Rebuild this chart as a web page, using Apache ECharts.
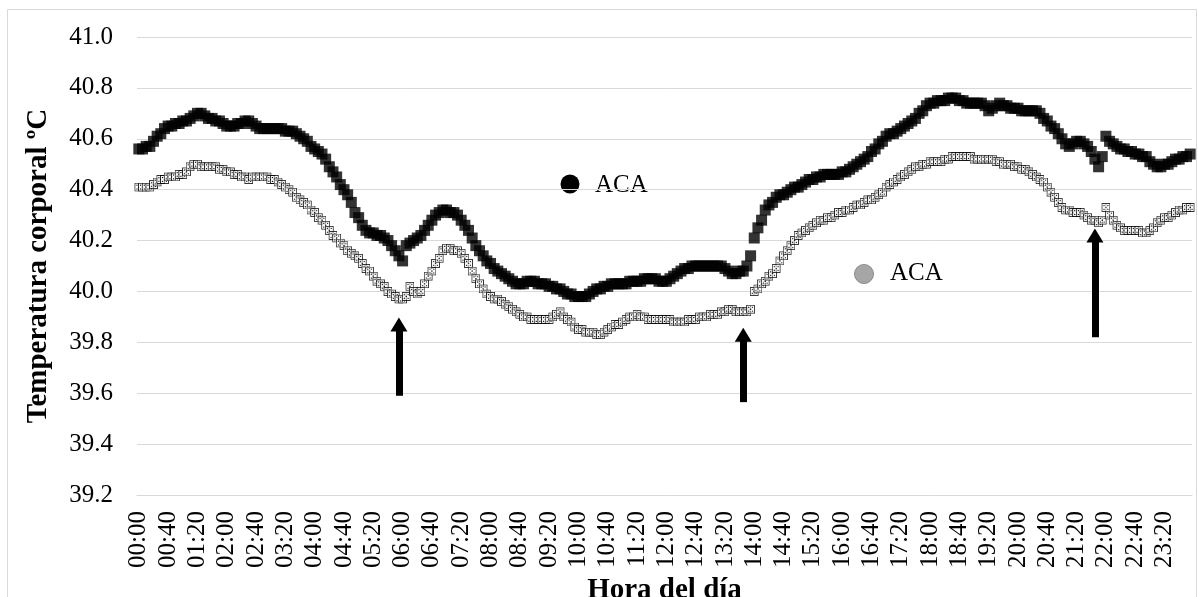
<!DOCTYPE html>
<html>
<head>
<meta charset="utf-8">
<script src="https://cdn.jsdelivr.net/npm/echarts@6/dist/echarts.min.js"></script>
<style>
  html, body { margin: 0; padding: 0; background: #fff; }
  #chart { width: 1198px; height: 597px; }
</style>
</head>
<body>
<div id="chart"></div>
<script>
// temperatura corporal cada 5 min (una fila = una hora)
const acaNegro = [
  40.56,40.56,40.57,40.57,40.59,40.61,40.62,40.64,40.65,40.65,40.66,40.66,
  40.67,40.67,40.68,40.69,40.70,40.70,40.69,40.68,40.68,40.67,40.67,40.66,
  40.65,40.65,40.65,40.66,40.66,40.67,40.67,40.66,40.65,40.64,40.64,40.64,
  40.64,40.64,40.64,40.64,40.63,40.63,40.63,40.62,40.61,40.60,40.59,40.57,
  40.56,40.55,40.54,40.52,40.49,40.47,40.45,40.42,40.40,40.38,40.35,40.31,
  40.29,40.26,40.24,40.23,40.23,40.22,40.22,40.21,40.20,40.18,40.16,40.14,
  40.12,40.18,40.19,40.20,40.21,40.22,40.24,40.26,40.28,40.30,40.31,40.32,
  40.32,40.31,40.31,40.30,40.28,40.26,40.24,40.21,40.18,40.16,40.14,40.12,
  40.11,40.09,40.08,40.07,40.06,40.05,40.04,40.03,40.03,40.03,40.04,40.04,
  40.04,40.03,40.03,40.03,40.02,40.02,40.01,40.01,40.00,39.99,39.99,39.98,
  39.98,39.98,39.98,39.99,40.00,40.01,40.01,40.02,40.02,40.03,40.03,40.03,
  40.03,40.03,40.04,40.04,40.04,40.04,40.05,40.05,40.05,40.05,40.04,40.04,
  40.04,40.05,40.06,40.07,40.08,40.09,40.09,40.10,40.10,40.10,40.10,40.10,
  40.10,40.10,40.10,40.10,40.09,40.08,40.07,40.07,40.08,40.08,40.10,40.14,
  40.21,40.25,40.28,40.32,40.34,40.35,40.37,40.38,40.38,40.39,40.40,40.41,
  40.41,40.42,40.43,40.44,40.44,40.45,40.45,40.46,40.46,40.46,40.46,40.46,
  40.47,40.47,40.48,40.49,40.50,40.51,40.52,40.53,40.55,40.56,40.58,40.59,
  40.61,40.62,40.62,40.63,40.64,40.65,40.66,40.67,40.68,40.70,40.71,40.73,
  40.74,40.74,40.75,40.75,40.75,40.76,40.76,40.76,40.75,40.75,40.74,40.74,
  40.74,40.74,40.74,40.73,40.71,40.72,40.73,40.74,40.73,40.73,40.72,40.72,
  40.72,40.71,40.71,40.71,40.71,40.71,40.70,40.68,40.67,40.65,40.64,40.62,
  40.60,40.58,40.57,40.58,40.59,40.59,40.58,40.57,40.55,40.52,40.49,40.53,
  40.61,40.59,40.58,40.57,40.56,40.56,40.55,40.55,40.54,40.54,40.53,40.53,
  40.51,40.50,40.49,40.49,40.50,40.50,40.51,40.52,40.52,40.53,40.53,40.54
];

const acaGris = [
  40.41,40.41,40.41,40.41,40.42,40.43,40.44,40.44,40.45,40.45,40.45,40.46,
  40.46,40.47,40.49,40.50,40.50,40.49,40.49,40.49,40.49,40.49,40.48,40.48,
  40.47,40.47,40.46,40.46,40.45,40.45,40.44,40.45,40.45,40.45,40.45,40.45,
  40.44,40.44,40.43,40.42,40.41,40.40,40.39,40.37,40.36,40.35,40.34,40.32,
  40.31,40.29,40.28,40.26,40.24,40.22,40.21,40.19,40.18,40.16,40.15,40.14,
  40.13,40.11,40.09,40.08,40.06,40.04,40.03,40.02,40.00,39.99,39.98,39.97,
  39.97,39.98,40.02,40.00,39.99,40.00,40.03,40.06,40.08,40.11,40.13,40.16,
  40.17,40.17,40.16,40.16,40.15,40.13,40.11,40.08,40.05,40.03,40.01,39.99,
  39.98,39.97,39.97,39.96,39.95,39.94,39.93,39.92,39.91,39.90,39.90,39.89,
  39.89,39.89,39.89,39.89,39.89,39.90,39.91,39.92,39.90,39.89,39.88,39.86,
  39.85,39.85,39.84,39.84,39.84,39.83,39.83,39.84,39.85,39.86,39.87,39.87,
  39.88,39.89,39.90,39.90,39.91,39.90,39.90,39.89,39.89,39.89,39.89,39.89,
  39.89,39.89,39.88,39.88,39.88,39.88,39.89,39.89,39.89,39.90,39.90,39.90,
  39.91,39.91,39.91,39.92,39.92,39.93,39.93,39.92,39.92,39.92,39.92,39.93,
  40.00,40.01,40.03,40.04,40.06,40.07,40.09,40.12,40.14,40.16,40.18,40.20,
  40.22,40.23,40.24,40.25,40.26,40.27,40.28,40.28,40.29,40.29,40.30,40.31,
  40.31,40.32,40.32,40.33,40.34,40.34,40.35,40.36,40.36,40.37,40.38,40.39,
  40.41,40.42,40.43,40.44,40.45,40.46,40.47,40.48,40.49,40.49,40.50,40.50,
  40.51,40.51,40.51,40.51,40.52,40.52,40.53,40.53,40.53,40.53,40.53,40.53,
  40.52,40.52,40.52,40.52,40.52,40.52,40.51,40.51,40.50,40.50,40.50,40.49,
  40.49,40.48,40.48,40.47,40.46,40.45,40.44,40.43,40.41,40.39,40.37,40.35,
  40.33,40.32,40.32,40.31,40.31,40.31,40.30,40.29,40.28,40.28,40.27,40.28,
  40.33,40.30,40.28,40.26,40.25,40.24,40.24,40.24,40.24,40.24,40.23,40.23,
  40.24,40.25,40.27,40.28,40.29,40.29,40.30,40.31,40.32,40.32,40.33,40.33
];

// flechas: [hora, base, punta]
const flechas = [
  ['05:55', 39.59, 39.87],
  ['13:45', 39.565, 39.83],
  ['21:45', 39.82, 40.22]
];

const pad = n => (n < 10 ? '0' : '') + n;
const horas = [];
for (let i = 0; i < 288; i++) {
  horas.push(pad(Math.floor(i / 12)) + ':' + pad((i % 12) * 5));
}

const FONT = '"Liberation Serif", "Times New Roman", serif';

// marcador cuadrado blanco con puntos
const svgMarca =
  '<svg xmlns="http://www.w3.org/2000/svg" width="9" height="9">' +
  '<rect x="0.5" y="0.5" width="8" height="8" fill="#fff" stroke="#000" stroke-width="1"/>' +
  '<rect x="2" y="2" width="1.2" height="1.2" fill="#000"/>' +
  '<rect x="5.8" y="2" width="1.2" height="1.2" fill="#000"/>' +
  '<rect x="2" y="5.8" width="1.2" height="1.2" fill="#000"/>' +
  '<rect x="5.8" y="5.8" width="1.2" height="1.2" fill="#000"/>' +
  '<rect x="3.8" y="3.8" width="1.4" height="1.4" fill="#000"/>' +
  '<rect x="3.8" y="1.5" width="1.2" height="1" fill="#444"/>' +
  '<rect x="3.8" y="6.5" width="1.2" height="1" fill="#444"/>' +
  '</svg>';
const marcaBlanca = 'image://data:image/svg+xml;charset=utf-8,' + encodeURIComponent(svgMarca);

const chart = echarts.init(document.getElementById('chart'));

const option = {
  backgroundColor: '#fff',
  animation: false,
  grid: { left: 137, right: 6, top: 37, bottom: 102, containLabel: false, outerBoundsMode: 'none' },
  xAxis: {
    type: 'category',
    data: horas,
    name: 'Hora del día',
    nameLocation: 'middle',
    nameGap: 76,
    nameTextStyle: { fontFamily: FONT, fontWeight: 'bold', fontSize: 29, color: '#000' },
    axisLine: { show: true, lineStyle: { color: '#d9d9d9', width: 1 } },
    axisTick: { show: false },
    axisLabel: {
      interval: 7,
      rotate: 90,
      margin: 16,
      fontFamily: FONT,
      fontSize: 25,
      color: '#000'
    },
    splitLine: { show: false }
  },
  yAxis: {
    type: 'value',
    min: 39.2,
    max: 41.0,
    interval: 0.2,
    name: 'Temperatura corporal ºC',
    nameLocation: 'middle',
    nameGap: 84,
    nameTextStyle: { fontFamily: FONT, fontWeight: 'bold', fontSize: 29, color: '#000' },
    axisLine: { show: false },
    axisTick: { show: false },
    axisLabel: {
      margin: 24,
      fontFamily: FONT,
      fontSize: 25,
      color: '#000',
      formatter: v => v.toFixed(1)
    },
    splitLine: { lineStyle: { color: '#d9d9d9', width: 1 } }
  },
  series: [
    {
      name: 'ACA',
      type: 'scatter',
      data: acaNegro,
      symbol: 'rect',
      symbolSize: 11,
      itemStyle: { color: '#000' },
      silent: true
    },
    {
      name: 'ACA',
      type: 'scatter',
      data: acaGris,
      symbol: marcaBlanca,
      symbolSize: 9,
      silent: true,
      markLine: {
        silent: true,
        symbol: ['none', 'triangle'],
        symbolSize: [17, 14],
        label: { show: false },
        lineStyle: { color: '#000', width: 7, type: 'solid' },
        data: flechas.map(f => [
          { coord: [f[0], f[1]] },
          { coord: [f[0], f[2]] }
        ])
      }
    }
  ],
  graphic: [
    {
      type: 'rect',
      shape: { x: 7.5, y: 9.5, width: 1189, height: 600 },
      style: { fill: 'none', stroke: '#d9d9d9', lineWidth: 1 },
      z: 0
    },
    {
      type: 'group',
      z: 100,
      children: [
        { type: 'rect', shape: { x: 513, y: 166, width: 189, height: 36 }, style: { fill: '#fff' } },
        { type: 'circle', shape: { cx: 570, cy: 184, r: 9.5 }, style: { fill: '#000' } },
        {
          type: 'text',
          style: { text: 'ACA', x: 595, y: 185, verticalAlign: 'middle', fill: '#000', font: '25px ' + FONT }
        },
        { type: 'rect', shape: { x: 815, y: 252, width: 187, height: 42 }, style: { fill: '#fff' } },
        {
          type: 'circle',
          shape: { cx: 864, cy: 274, r: 9.5 },
          style: { fill: '#a6a6a6', stroke: '#8a8a8a', lineWidth: 1 }
        },
        {
          type: 'text',
          style: { text: 'ACA', x: 890, y: 273, verticalAlign: 'middle', fill: '#000', font: '25px ' + FONT }
        }
      ]
    }
  ]
};

chart.setOption(option);
</script>
</body>
</html>
